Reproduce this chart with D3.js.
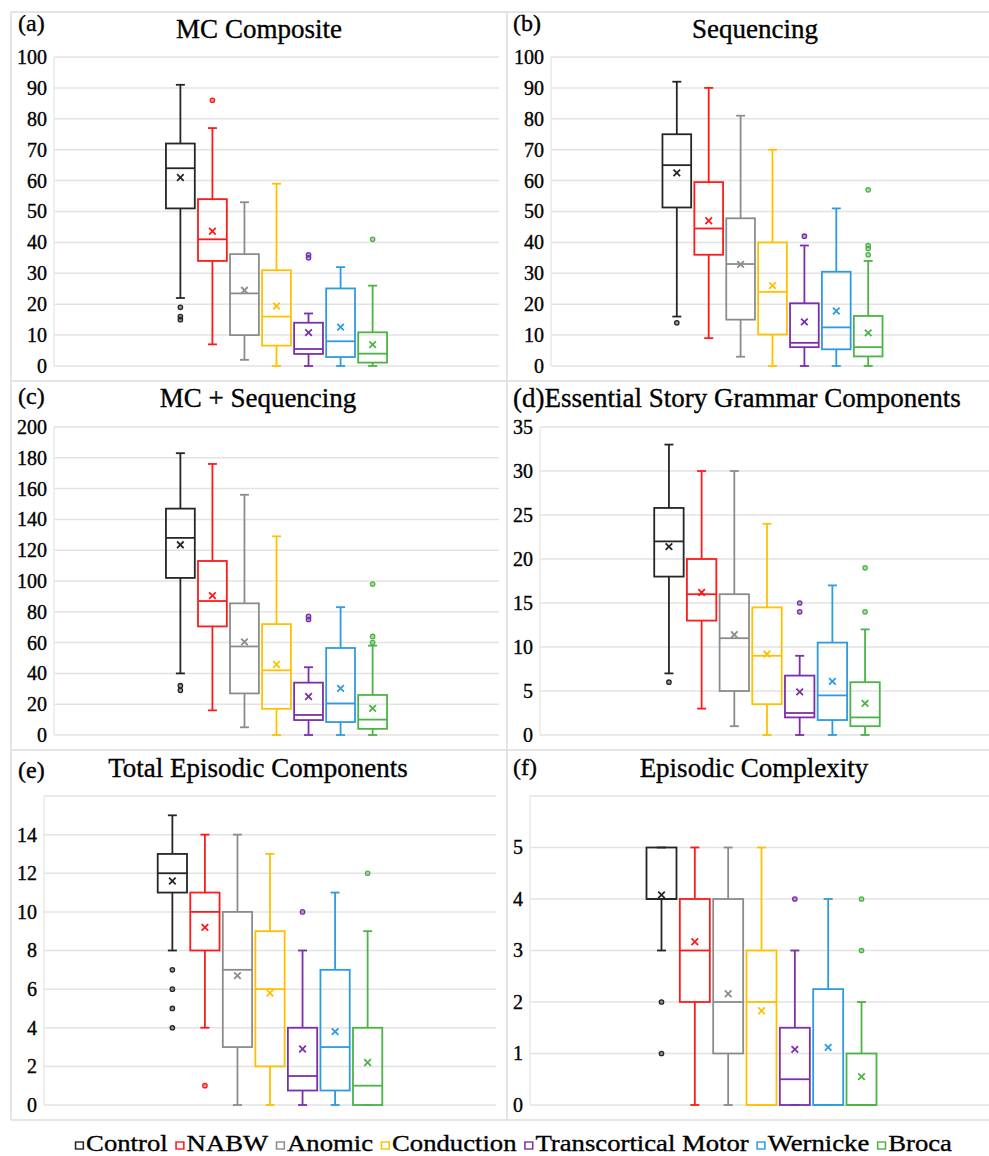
<!DOCTYPE html>
<html>
<head>
<meta charset="utf-8">
<script src="https://cdn.jsdelivr.net/npm/d3@7"></script>
<style>
  body { margin: 0; background: #fff; }
  svg { display: block; }
</style>
</head>
<body>
<svg id="chart" width="989" height="1156"></svg>
<script>
// ---------- DATA ----------
const groups = ["Control", "NABW", "Anomic", "Conduction", "Transcortical Motor", "Wernicke", "Broca"];
const groupColors = ["#262626", "#FF1A1A", "#8C8C8C", "#FFC000", "#7B2FAE", "#2E9BE0", "#4DB346"];

const panelTitles = ["MC Composite", "Sequencing", "MC + Sequencing", "Essential Story Grammar Components", "Total Episodic Components", "Episodic Complexity"];
const panelLetters = ["(a)", "(b)", "(c)", "(d)", "(e)", "(f)"];

// (a) MC Composite
const mcLow      = [22, 7, 2, 0, 0, 0, 0];
const mcQ1       = [51, 34, 10, 6.6, 3.9, 2.9, 1.1];
const mcMedian   = [64, 41, 23.5, 16, 5.5, 8, 4];
const mcQ3       = [72, 54, 36.2, 31, 14, 25.1, 10.9];
const mcHigh     = [91, 77, 53, 59, 17, 32, 26];
const mcMean     = [61, 43.6, 24.5, 19.4, 10.8, 12.6, 6.9];
const mcOutliers = [[19, 16, 15], [86], [], [], [36, 35], [], [41]];
const mcTicks    = [0, 10, 20, 30, 40, 50, 60, 70, 80, 90, 100];

// (b) Sequencing
const seqLow      = [16, 9, 3, 0, 0, 0, 0];
const seqQ1       = [51.3, 36, 15, 10.2, 6.1, 5.4, 3.1];
const seqMedian   = [65, 44.5, 33, 24, 7.5, 12.5, 6.1];
const seqQ3       = [75, 59.5, 47.8, 40, 20.3, 30.5, 16.2];
const seqHigh     = [92, 90, 81, 70, 39, 51, 34];
const seqMean     = [62.5, 47, 32.9, 26, 14.3, 17.8, 10.7];
const seqOutliers = [[14], [], [], [], [42], [], [57, 39, 38, 36]];
const seqTicks    = [0, 10, 20, 30, 40, 50, 60, 70, 80, 90, 100];

// (c) MC + Sequencing
const mcsLow      = [40, 16, 5, 0, 0, 0, 0];
const mcsQ1       = [102, 70.5, 27, 17, 9.7, 8.4, 4];
const mcsMedian   = [128, 87, 57.5, 42, 13, 20.5, 10];
const mcsQ3       = [147, 113, 85.5, 72, 34, 56.5, 26];
const mcsHigh     = [183, 176, 156, 129, 44, 83, 58];
const mcsMean     = [123.5, 90.5, 60.5, 45.8, 25, 30.3, 17.3];
const mcsOutliers = [[32, 29], [], [], [], [77, 75], [], [98, 64, 60]];
const mcsTicks    = [0, 20, 40, 60, 80, 100, 120, 140, 160, 180, 200];

// (d) Essential Story Grammar Components
const esgLow      = [7, 3, 1, 0, 0, 0, 0];
const esgQ1       = [18, 13, 5, 3.5, 2, 1.7, 1];
const esgMedian   = [22, 16, 11, 9, 2.5, 4.5, 2];
const esgQ3       = [25.8, 20, 16, 14.5, 6.75, 10.5, 6];
const esgHigh     = [33, 30, 30, 24, 9, 17, 12];
const esgMean     = [21.4, 16.2, 11.4, 9.2, 4.9, 6.1, 3.6];
const esgOutliers = [[6], [], [], [], [15, 14], [], [19, 14]];
const esgTicks    = [0, 5, 10, 15, 20, 25, 30, 35];

// (e) Total Episodic Components
const tecLow      = [8, 4, 0, 0, 0, 0, 0];
const tecQ1       = [11, 8, 3, 2, 0.75, 0.75, 0];
const tecMedian   = [12, 10, 7, 6, 1.5, 3, 1];
const tecQ3       = [13, 11, 10, 9, 4, 7, 4];
const tecHigh     = [15, 14, 14, 13, 8, 11, 9];
const tecMean     = [11.6, 9.2, 6.7, 5.8, 2.9, 3.8, 2.2];
const tecOutliers = [[7, 6, 5, 4], [1], [], [], [10], [], [12]];
const tecTicks    = [0, 2, 4, 6, 8, 10, 12, 14];
const tecMax      = 16;

// (f) Episodic Complexity
const ecLow      = [3, 0, 0, 0, 0, 0, 0];
const ecQ1       = [4, 2, 1, 0, 0, 0, 0];
const ecMedian   = [4, 3, 2, 2, 0.5, 0, 0];
const ecQ3       = [5, 4, 4, 3, 1.5, 2.25, 1];
const ecHigh     = [5, 5, 5, 5, 3, 4, 2];
const ecMean     = [4.08, 3.17, 2.16, 1.83, 1.08, 1.12, 0.55];
const ecOutliers = [[2, 1], [], [], [], [4], [], [4, 3]];
const ecTicks    = [0, 1, 2, 3, 4, 5];
const ecMax      = 6;

const panelData = [
  { low: mcLow,  q1: mcQ1,  med: mcMedian,  q3: mcQ3,  high: mcHigh,  mean: mcMean,  out: mcOutliers,  ticks: mcTicks,  max: 100 },
  { low: seqLow, q1: seqQ1, med: seqMedian, q3: seqQ3, high: seqHigh, mean: seqMean, out: seqOutliers, ticks: seqTicks, max: 100 },
  { low: mcsLow, q1: mcsQ1, med: mcsMedian, q3: mcsQ3, high: mcsHigh, mean: mcsMean, out: mcsOutliers, ticks: mcsTicks, max: 200 },
  { low: esgLow, q1: esgQ1, med: esgMedian, q3: esgQ3, high: esgHigh, mean: esgMean, out: esgOutliers, ticks: esgTicks, max: 35 },
  { low: tecLow, q1: tecQ1, med: tecMedian, q3: tecQ3, high: tecHigh, mean: tecMean, out: tecOutliers, ticks: tecTicks, max: tecMax },
  { low: ecLow,  q1: ecQ1,  med: ecMedian,  q3: ecQ3,  high: ecHigh,  mean: ecMean,  out: ecOutliers,  ticks: ecTicks,  max: ecMax }
];

// ---------- LAYOUT ----------
const FONT = "Liberation Serif";
const layout = [
  { x0: 54,  x1: 499, yTop: 57,  yBot: 366,  titleX: 259, titleY: 38,  labX: 18,  labY: 31 },
  { x0: 551, x1: 994, yTop: 57,  yBot: 366,  titleX: 755, titleY: 38,  labX: 513, labY: 31 },
  { x0: 54,  x1: 499, yTop: 427, yBot: 735,  titleX: 258, titleY: 407, labX: 18,  labY: 404 },
  { x0: 540, x1: 994, yTop: 427, yBot: 735,  titleX: null, titleY: 407, labX: 513, labY: 407 },
  { x0: 44,  x1: 496, yTop: 796, yBot: 1105, titleX: 258, titleY: 777, labX: 18,  labY: 778 },
  { x0: 530, x1: 993, yTop: 796, yBot: 1105, titleX: 754, titleY: 777, labX: 513, labY: 775 }
];

const svg = d3.select("#chart");
svg.append("rect").attr("width", 989).attr("height", 1156).attr("fill", "#fff");

// panel frame lines
const frame = svg.append("g").attr("stroke", "#dcdcdc").attr("stroke-width", 1.5);
[12, 381, 750, 1120].forEach(y => frame.append("line").attr("x1", 11).attr("x2", 989).attr("y1", y).attr("y2", y));
frame.append("line").attr("x1", 11).attr("x2", 11).attr("y1", 12).attr("y2", 1120);
frame.append("line").attr("x1", 507).attr("x2", 507).attr("y1", 12).attr("y2", 1120);

const sw = 1.8;
const textStroke = sel => sel.attr("stroke", "#000").attr("stroke-width", 0.35);

panelData.forEach((P, pi) => {
  const L = layout[pi];
  const g = svg.append("g");
  const y = d3.scaleLinear().domain([0, P.max]).range([L.yBot, L.yTop]);
  const w = L.x1 - L.x0;
  const x = d3.scaleBand().domain(groups)
    .range([L.x0 + w * 0.248, L.x1 - w * 0.248])
    .paddingInner(0.1).paddingOuter(0.05);

  // gridlines
  const gridVals = P.ticks.includes(P.max) ? P.ticks : P.ticks.concat([P.max]);
  g.append("g").selectAll("line").data(gridVals).join("line")
    .attr("x1", L.x0).attr("x2", L.x1)
    .attr("y1", d => y(d)).attr("y2", d => y(d))
    .attr("stroke", "#e3e3e3").attr("stroke-width", 1.5);
  g.append("line").attr("x1", L.x0).attr("x2", L.x0).attr("y1", L.yTop).attr("y2", L.yBot)
    .attr("stroke", "#e8e8e8").attr("stroke-width", 1.5);

  // y axis labels via d3 axis
  const axis = d3.axisLeft(y).tickValues(P.ticks).tickFormat(d => String(d)).tickSize(0).tickPadding(7);
  const ag = g.append("g").attr("transform", `translate(${L.x0},0)`).call(axis)
    .attr("font-family", FONT).attr("font-size", 20);
  ag.select(".domain").remove();
  ag.selectAll("text").attr("fill", "#000").call(textStroke);

  // titles
  if (L.titleX !== null) {
    g.append("text").attr("x", L.titleX).attr("y", L.titleY).attr("text-anchor", "middle")
      .attr("font-family", FONT).attr("font-size", 27).call(textStroke).text(panelTitles[pi]);
    g.append("text").attr("x", L.labX).attr("y", L.labY).attr("font-family", FONT)
      .attr("font-size", 24).call(textStroke).text(panelLetters[pi]);
  } else {
    g.append("text").attr("x", L.labX).attr("y", L.titleY).attr("font-family", FONT).attr("font-size", 27)
      .call(textStroke).text(panelLetters[pi] + panelTitles[pi]);
  }

  // boxes
  groups.forEach((gr, i) => {
    const c = groupColors[i];
    const bx = x(gr), bw = x.bandwidth(), cx = bx + bw / 2;
    const cap = 4.5;
    const bg = g.append("g").attr("stroke", c).attr("stroke-width", sw).attr("fill", "none");
    if (P.high[i] > P.q3[i]) {
      bg.append("line").attr("x1", cx).attr("x2", cx).attr("y1", y(P.q3[i])).attr("y2", y(P.high[i]));
    }
    bg.append("line").attr("x1", cx - cap).attr("x2", cx + cap).attr("y1", y(P.high[i])).attr("y2", y(P.high[i]));
    if (P.low[i] < P.q1[i]) {
      bg.append("line").attr("x1", cx).attr("x2", cx).attr("y1", y(P.q1[i])).attr("y2", y(P.low[i]));
    }
    bg.append("line").attr("x1", cx - cap).attr("x2", cx + cap).attr("y1", y(P.low[i])).attr("y2", y(P.low[i]));
    bg.append("rect").attr("x", bx).attr("width", bw)
      .attr("y", y(P.q3[i])).attr("height", y(P.q1[i]) - y(P.q3[i]));
    bg.append("line").attr("x1", bx).attr("x2", bx + bw).attr("y1", y(P.med[i])).attr("y2", y(P.med[i]));
    const my = y(P.mean[i]), m = 3.3;
    bg.append("path").attr("d", `M${cx - m},${my - m}L${cx + m},${my + m}M${cx - m},${my + m}L${cx + m},${my - m}`);
    P.out[i].forEach(v => {
      g.append("circle").attr("cx", cx).attr("cy", y(v)).attr("r", 2.2)
        .attr("fill", c).attr("fill-opacity", 0.45).attr("stroke", c).attr("stroke-width", 1.3);
    });
  });
});

// ---------- LEGEND ----------
const leg = svg.append("g");
let cursor = 0;
const sq = 7, gapSq = 3, gapItem = 7;
groups.forEach((gr, i) => {
  leg.append("rect").attr("x", cursor + 0.5).attr("y", -9).attr("width", sq).attr("height", sq)
    .attr("fill", "#fff").attr("stroke", groupColors[i]).attr("stroke-width", 1.4);
  cursor += sq + gapSq;
  const t = leg.append("text").attr("x", cursor).attr("y", 0).attr("font-family", FONT)
    .attr("font-size", 24).call(textStroke).text(gr);
  cursor += t.node().getComputedTextLength() + gapItem;
});
const totalW = cursor - gapItem;
const sx = 877 / totalW;
leg.attr("transform", `translate(75,1151) scale(${sx},1)`);
</script>
</body>
</html>
